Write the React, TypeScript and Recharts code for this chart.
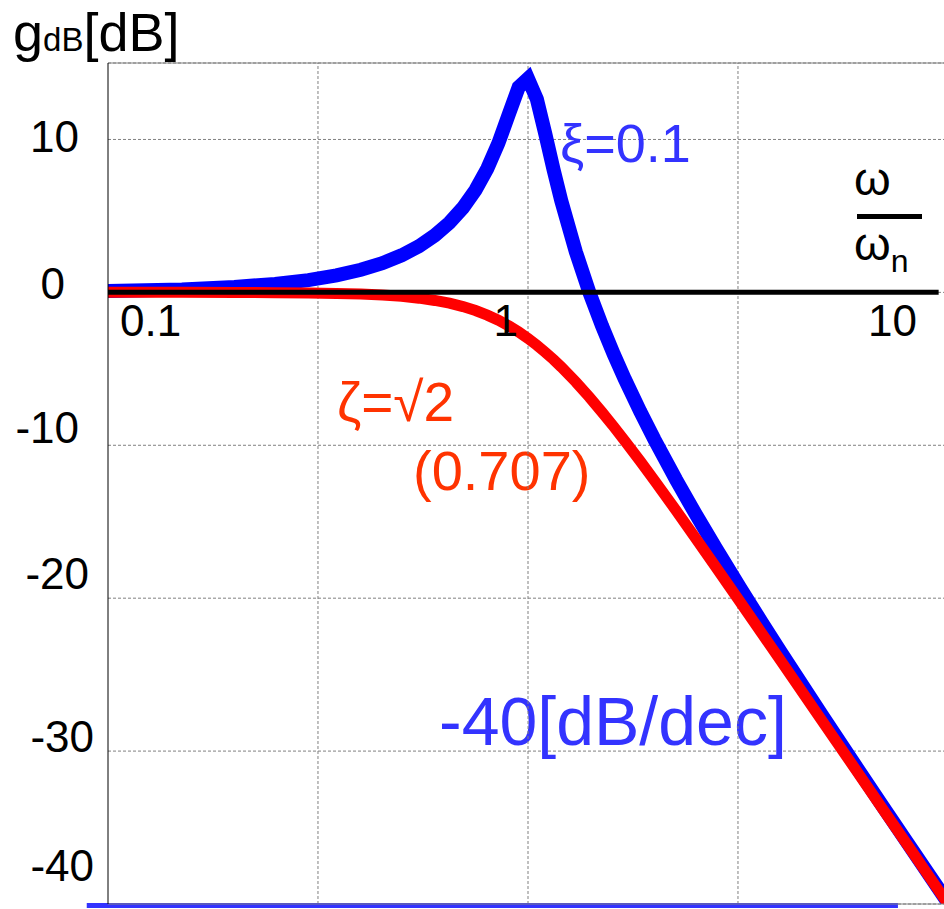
import React from 'react'
import { LineChart, Line, XAxis, YAxis, CartesianGrid, ReferenceLine, ReferenceDot } from 'recharts'

// normalized frequency w/wn
const omega = [
  0.1, 0.15, 0.2, 0.25, 0.3, 0.35, 0.4, 0.45, 0.5, 0.55,
  0.6, 0.65, 0.7, 0.75, 0.8, 0.85, 0.9, 0.95, 1, 1.05,
  1.1, 1.15, 1.2, 1.3, 1.4, 1.5, 1.6, 1.7, 1.85, 2,
  2.25, 2.5, 2.8, 3.2, 3.6, 4, 5, 6, 7, 8, 10,
]

// gain [dB], xi = 0.1
const gainXi01 = [
  0.09, 0.19, 0.35, 0.55, 0.8, 1.11, 1.48, 1.91, 2.42, 3.02,
  3.73, 4.55, 5.53, 6.7, 8.09, 9.75, 11.64, 13.41, 13.98, 12.63,
  10.34, 8.04, 6.0, 2.65, 0.0, -2.18, -4.04, -5.67, -7.79, -9.62,
  -12.23, -14.44, -16.73, -19.33, -21.57, -23.53, -27.61, -30.89, -33.63, -35.99, -39.91,
]

// gain [dB], zeta = 0.707
const gainZeta0707 = [
  0.0, 0.0, -0.01, -0.02, -0.04, -0.07, -0.11, -0.18, -0.26, -0.38,
  -0.53, -0.71, -0.93, -1.19, -1.49, -1.82, -2.19, -2.59, -3.01, -3.46,
  -3.92, -4.39, -4.88, -5.86, -6.85, -7.83, -8.78, -9.71, -11.04, -12.3,
  -14.25, -16.03, -17.96, -20.25, -22.28, -24.1, -27.97, -31.13, -33.81, -36.12, -40.0,
]

const xGridTicks = [0.1, 0.3162, 1, 3.162, 10]
const yTicks = [-40, -30, -20, -10, 0, 10]
const xLabelValues = [0.1, 1, 10]
const xLabelTexts = ['0.1', '1', '10']

const data = omega.map((w, i) => ({ w, xi: gainXi01[i], zeta: gainZeta0707[i] }))

const FONT = '"Liberation Sans", Arial, Helvetica, sans-serif'

const yTickOffset: Record<number, { dx: number; dy: number }> = {
  10: { dx: -29, dy: 13 },
  0: { dx: -43, dy: 7 },
  '-10': { dx: -29, dy: -2 },
  '-20': { dx: -19, dy: -9 },
  '-30': { dx: -14, dy: 1 },
  '-40': { dx: -14, dy: -23 },
}

const xLabelOffset = [
  { dx: 12, anchor: 'start' },
  { dx: -10, anchor: 'end' },
  { dx: -31, anchor: 'end' },
]

const YTick = (props: any) => {
  const { x, y, payload } = props
  const o = yTickOffset[payload.value] || { dx: 0, dy: 0 }
  return (
    <text x={x + o.dx} y={y + o.dy} textAnchor="end" fontSize={44} fontFamily={FONT} fill="#000">
      {payload.value}
    </text>
  )
}

const XLabel = (props: any) => {
  const { viewBox, text, dx, anchor } = props
  if (!viewBox) return null
  const cx = viewBox.x + viewBox.width / 2
  const cy = viewBox.y + viewBox.height / 2
  return (
    <text x={cx + dx} y={cy + 44} textAnchor={anchor} fontSize={44} fontFamily={FONT} fill="#000">
      {text}
    </text>
  )
}

export default function App() {
  return (
    <div style={{ position: 'fixed', left: 0, top: 0, width: 944, height: 909, overflow: 'hidden', background: '#fff' }}>
      <LineChart width={960} height={909} data={data} margin={{ top: 63, right: 12, bottom: 0, left: 0 }}>
        <CartesianGrid stroke="#808080" strokeDasharray="3 2" vertical={false} />
        <XAxis
          dataKey="w"
          type="number"
          scale="log"
          domain={[0.1, 10]}
          ticks={xGridTicks}
          allowDataOverflow
          tick={false}
          tickLine={false}
          axisLine={{ stroke: '#808080' }}
          height={5}
        />
        <YAxis
          type="number"
          domain={[-40, 15]}
          ticks={yTicks}
          interval={0}
          allowDataOverflow
          width={108}
          tickLine={false}
          tickSize={0}
          tickMargin={0}
          axisLine={{ stroke: '#000' }}
          tick={<YTick />}
        />
        {xGridTicks.slice(1).map((v) => (
          <ReferenceLine key={v} x={v} stroke="#808080" strokeDasharray="3 2" />
        ))}
        <ReferenceLine y={15} stroke="#808080" />
        <Line type="linear" dataKey="xi" stroke="#0000ff" strokeWidth={14} dot={false} isAnimationActive={false} />
        <Line type="linear" dataKey="zeta" stroke="#ff0000" strokeWidth={11} dot={false} isAnimationActive={false} />
        <ReferenceLine segment={[{ x: 0.1, y: 0 }, { x: 9.5, y: 0 }]} stroke="#000" strokeWidth={5} />
        <ReferenceLine
          segment={[{ x: 0.089, y: -40.1 }, { x: 7.6, y: -40.1 }]}
          stroke="#3333ff"
          strokeWidth={5}
          ifOverflow="visible"
        />
        {xLabelValues.map((v, i) => (
          <ReferenceDot
            key={v}
            x={v}
            y={0}
            r={1}
            fill="none"
            stroke="none"
            ifOverflow="visible"
            label={<XLabel text={xLabelTexts[i]} dx={xLabelOffset[i].dx} anchor={xLabelOffset[i].anchor} />}
          />
        ))}
        <text x={13} y={51} fontSize={54} fontFamily={FONT} fill="#000">
          g<tspan fontSize={33}>dB</tspan>[dB]
        </text>
        <text x={854} y={195} fontSize={47} fontFamily={FONT} fill="#000">ω</text>
        <line x1={857} x2={922} y1={216.5} y2={216.5} stroke="#000" strokeWidth={5} />
        <text x={854} y={260} fontSize={47} fontFamily={FONT} fill="#000">
          ω<tspan fontSize={32} dy={12}>n</tspan>
        </text>
        <text x={560} y={162} fontSize={54} fontFamily={FONT} fill="#3333ff">ξ=0.1</text>
        <text x={337} y={421} fontSize={55} fontFamily={FONT} fill="#ff3300">ζ=√2</text>
        <text x={413} y={490} fontSize={56} fontFamily={FONT} fill="#ff3300">(0.707)</text>
        <text x={439} y={745} fontSize={68} fontFamily={FONT} fill="#3333ff">-40[dB/dec]</text>
      </LineChart>
    </div>
  )
}
